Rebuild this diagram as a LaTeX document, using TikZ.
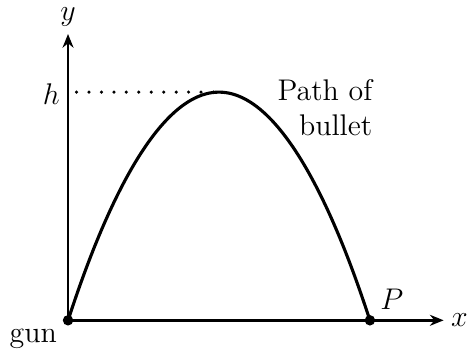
\documentclass[tikz,border=0pt]{standalone}
\usetikzlibrary{arrows.meta,positioning}

\begin{document}
\begin{tikzpicture}[every node/.style={font=\large},
  axis/.style={line width=1.1pt,-{Stealth[length=5.5pt,width=4.4pt]}},
  dot/.style={circle,fill,inner sep=0pt,minimum size=4.2pt}]
\useasboundingbox (-0.96,-0.42) rectangle (5.63,4.52);
% origin (gun) and landing point
\node[dot] (gun) at (0,0) {};
\node[dot] (P) at (4.26,0) {};
\coordinate (top) at (2.13,3.22);
\coordinate (xend) at (5.30,0);
\coordinate (yend) at (0,4.04);
% axes
\draw[axis] (gun.center) -- (xend);
\draw[axis] (gun.center) -- (yend);
\node[anchor=west,inner sep=0pt] (xlab) at (5.40,0) {$x$};
\node[above=0.1cm of yend,inner sep=0pt] (ylab) {$y$};
% trajectory
\draw[line width=1.25pt] (gun.center) parabola bend (top) (P.center);
\draw[line width=1.4pt,line cap=round,dash pattern=on 0pt off 5pt] (0.12,3.22) -- (top);
\node[anchor=east,inner sep=0pt] (hlab) at (-0.11,3.19) {$h$};
\node[anchor=north east,inner sep=0pt] (gunlab) at (-0.15,-0.12) {gun};
\node[anchor=south west,inner sep=0pt] (Plab) at (4.40,0.14) {$P$};
\node[anchor=north east,align=right,inner sep=0pt] (path) at (4.30,3.41) {Path of\\bullet};
\end{tikzpicture}
\end{document}
